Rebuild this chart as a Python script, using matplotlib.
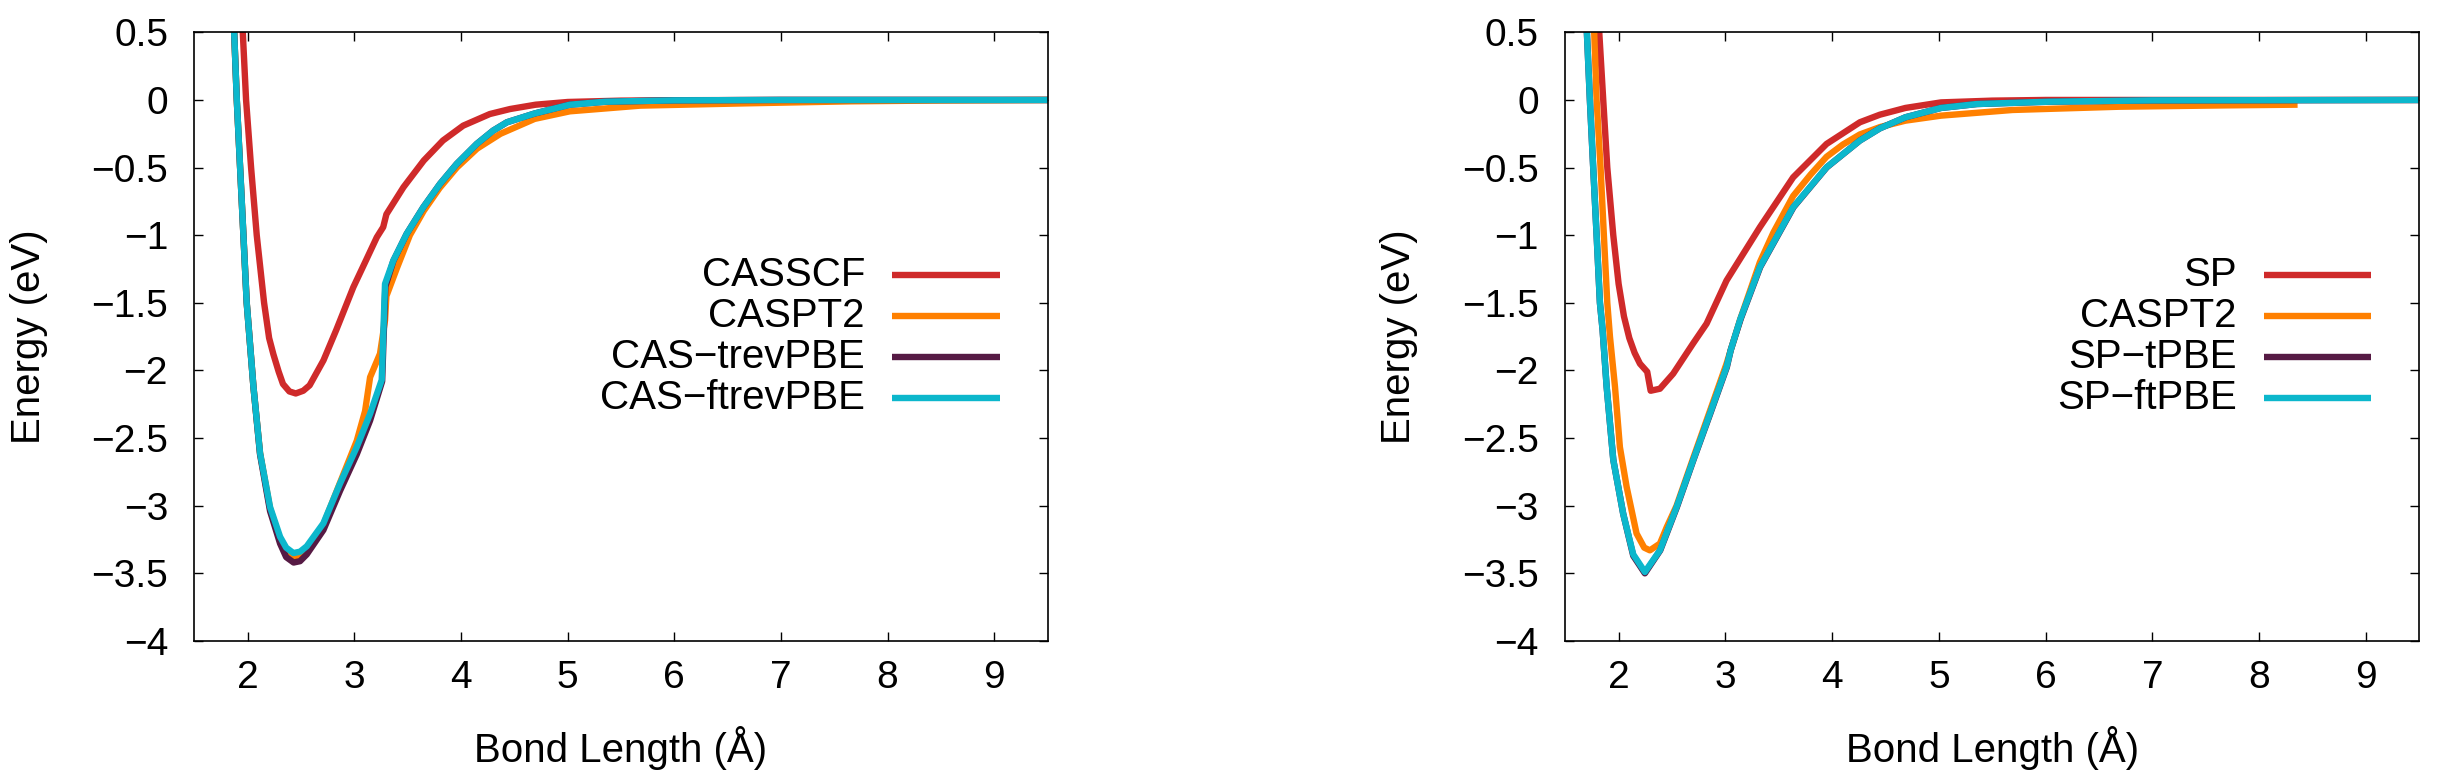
import matplotlib
matplotlib.use("Agg")
import matplotlib.pyplot as plt

plt.rcParams['font.family'] = ['Liberation Sans', 'DejaVu Sans']

# ---- left panel: CAS based methods ----
casscf_x = [1.95, 1.984, 2.031, 2.084, 2.153, 2.20, 2.24, 2.29, 2.33, 2.39, 2.45, 2.52, 2.58, 2.71,
            2.83, 2.99, 3.10, 3.21, 3.27, 3.30, 3.46, 3.65, 3.83, 4.02, 4.27, 4.46, 4.70,
            5.0, 5.5, 6.0, 7.0, 8.0, 9.5]
casscf_y = [0.55, 0.0, -0.5, -1.0, -1.5, -1.76, -1.88, -2.01, -2.10, -2.155, -2.17, -2.15, -2.11, -1.925,
            -1.70, -1.384, -1.20, -1.015, -0.94, -0.845, -0.645, -0.448, -0.30, -0.19, -0.104, -0.067, -0.035,
            -0.015, -0.005, -0.002, 0.0, 0.0, 0.0]

caspt2_x = [1.87, 1.897, 1.928, 1.959, 1.99, 2.053, 2.115, 2.209, 2.303, 2.36, 2.428, 2.49, 2.553, 2.709,
            2.865, 3.022, 3.10, 3.147, 3.24, 3.287, 3.30, 3.40, 3.52, 3.65, 3.80, 3.96, 4.15,
            4.37, 4.69, 5.02, 5.68, 6.67, 7.66, 8.5, 9.5]
caspt2_y = [0.55, 0.0, -0.5, -1.0, -1.5, -2.12, -2.61, -3.02, -3.25, -3.34, -3.38, -3.37, -3.32, -3.14,
            -2.83, -2.52, -2.30, -2.05, -1.876, -1.63, -1.45, -1.24, -1.00, -0.82, -0.65, -0.50, -0.36,
            -0.25, -0.14, -0.084, -0.042, -0.025, -0.01, -0.004, 0.0]

cas_trevpbe_x = [1.87, 1.897, 1.928, 1.959, 1.99, 2.053, 2.115, 2.209, 2.303, 2.36, 2.43, 2.49, 2.553, 2.709,
                 2.865, 3.022, 3.147, 3.26, 3.29, 3.365, 3.49, 3.646, 3.803, 3.959, 4.147, 4.30,
                 4.43, 4.69, 5.02, 5.35, 6.0, 7.0, 9.5]
cas_trevpbe_y = [0.55, 0.0, -0.5, -1.0, -1.5, -2.12, -2.62, -3.04, -3.28, -3.38, -3.42, -3.41, -3.36, -3.18,
                 -2.89, -2.62, -2.37, -2.08, -1.38, -1.19, -0.99, -0.793, -0.62, -0.473, -0.325, -0.227,
                 -0.165, -0.10, -0.035, -0.013, -0.003, 0.0, 0.0]

cas_ftrevpbe_x = [1.87, 1.897, 1.928, 1.959, 1.99, 2.053, 2.115, 2.209, 2.303, 2.36, 2.428, 2.49, 2.553, 2.709,
                  2.865, 3.022, 3.147, 3.256, 3.287, 3.365, 3.49, 3.646, 3.803, 3.959, 4.147, 4.30,
                  4.43, 4.69, 5.02, 5.35, 6.0, 7.0, 9.5]
cas_ftrevpbe_y = [0.55, 0.0, -0.5, -1.0, -1.5, -2.12, -2.61, -3.01, -3.23, -3.31, -3.35, -3.34, -3.30, -3.13,
                  -2.836, -2.566, -2.32, -2.07, -1.36, -1.187, -0.99, -0.793, -0.62, -0.473, -0.325, -0.227,
                  -0.165, -0.10, -0.035, -0.013, -0.003, 0.0, 0.0]

# ---- right panel: SP based methods ----
sp_x = [1.815, 1.856, 1.894, 1.95, 2.0, 2.05, 2.10, 2.15, 2.20, 2.268, 2.30, 2.387, 2.511, 2.698,
        2.824, 3.011, 3.323, 3.635, 3.948, 4.26, 4.447, 4.687, 5.02, 5.5, 6.0, 9.5]
sp_y = [0.55, 0.0, -0.5, -1.0, -1.36, -1.60, -1.76, -1.87, -1.95, -2.01, -2.15, -2.135, -2.024, -1.80,
        -1.654, -1.335, -0.941, -0.572, -0.325, -0.165, -0.109, -0.059, -0.018, -0.005, 0.0, 0.0]

sp_caspt2_x = [1.769, 1.794, 1.831, 1.862, 1.894, 1.919, 1.966, 2.012, 2.075, 2.168, 2.24, 2.293, 2.387,
               2.45, 2.543, 2.698, 2.855, 3.011, 3.14, 3.323, 3.45, 3.635, 3.80, 3.948, 4.10, 4.26,
               4.45, 4.687, 5.02, 5.69, 6.69, 7.69, 8.33]
sp_caspt2_y = [0.55, 0.0, -0.5, -1.0, -1.5, -1.75, -2.12, -2.566, -2.86, -3.205, -3.31, -3.33, -3.28,
               -3.16, -3.00, -2.65, -2.30, -1.95, -1.62, -1.20, -0.98, -0.71, -0.55, -0.42, -0.33, -0.255,
               -0.20, -0.153, -0.116, -0.074, -0.05, -0.04, -0.035]

sp_tpbe_x = [1.70, 1.731, 1.762, 1.794, 1.825, 1.85, 1.888, 1.95, 2.043, 2.137, 2.246, 2.39, 2.546,
             2.70, 2.858, 3.014, 3.05, 3.143, 3.326, 3.638, 3.95, 4.26, 4.447, 4.687, 5.02, 5.356,
             6.025, 7.0, 9.5]
sp_tpbe_y = [0.55, 0.0, -0.5, -1.0, -1.5, -1.70, -2.12, -2.66, -3.06, -3.37, -3.50, -3.33, -3.01,
             -2.664, -2.32, -1.975, -1.85, -1.62, -1.236, -0.793, -0.498, -0.30, -0.21, -0.128, -0.059, -0.03,
             -0.013, -0.003, 0.0]

sp_ftpbe_x = [1.70, 1.731, 1.762, 1.794, 1.825, 1.85, 1.888, 1.95, 2.043, 2.137, 2.246, 2.387, 2.543,
              2.698, 2.855, 3.011, 3.05, 3.14, 3.323, 3.635, 3.948, 4.26, 4.447, 4.687, 5.02, 5.356,
              6.025, 7.0, 9.5]
sp_ftpbe_y = [0.55, 0.0, -0.5, -1.0, -1.5, -1.70, -2.12, -2.66, -3.06, -3.36, -3.49, -3.33, -3.01,
              -2.664, -2.32, -1.975, -1.85, -1.62, -1.236, -0.793, -0.498, -0.30, -0.21, -0.128, -0.059, -0.03,
              -0.013, -0.003, 0.0]

x_ticks = [2, 3, 4, 5, 6, 7, 8, 9]
y_ticks = [0.5, 0, -0.5, -1, -1.5, -2, -2.5, -3, -3.5, -4]
y_tick_labels = ['0.5', '0', '\u22120.5', '\u22121', '\u22121.5', '\u22122',
                 '\u22122.5', '\u22123', '\u22123.5', '\u22124']

colors = ['#cf2a2a', '#ff8000', '#561a44', '#0cb7cc']

left_series = [
    ('CASSCF', casscf_x, casscf_y),
    ('CASPT2', caspt2_x, caspt2_y),
    ('CAS\u2212trevPBE', cas_trevpbe_x, cas_trevpbe_y),
    ('CAS\u2212ftrevPBE', cas_ftrevpbe_x, cas_ftrevpbe_y),
]
right_series = [
    ('SP', sp_x, sp_y),
    ('CASPT2', sp_caspt2_x, sp_caspt2_y),
    ('SP\u2212tPBE', sp_tpbe_x, sp_tpbe_y),
    ('SP\u2212ftPBE', sp_ftpbe_x, sp_ftpbe_y),
]

fig = plt.figure(figsize=(24.43, 7.81), dpi=100)
ax_left = fig.add_axes([0.0796, 0.1793, 0.3492, 0.7793])
ax_right = fig.add_axes([0.6407, 0.1793, 0.3496, 0.7793])

legend_rows = [0.601, 0.534, 0.467, 0.400]

for ax, series in [(ax_left, left_series), (ax_right, right_series)]:
    for (label, xs, ys), c, ly in zip(series, colors, legend_rows):
        ax.plot(xs, ys, color=c, lw=4.6, solid_joinstyle='round')
        # gnuplot style key: text right aligned, sample line to its right
        ax.plot([0.818, 0.944], [ly, ly], color=c, lw=4.6, transform=ax.transAxes,
                solid_capstyle='butt')
        ax.text(0.786, ly, label, transform=ax.transAxes, ha='right', va='center',
                fontsize=29)
    ax.set_xlim(1.5, 9.5)
    ax.set_ylim(-4, 0.5)
    ax.set_xticks(x_ticks)
    ax.set_xticklabels([str(t) for t in x_ticks])
    ax.set_yticks(y_ticks)
    ax.set_yticklabels(y_tick_labels)
    ax.tick_params(direction='in', length=6.5, width=1.0, labelsize=28,
                   top=True, right=True, pad=14)
    ax.tick_params(axis='y', pad=19)
    for sp in ax.spines.values():
        sp.set_linewidth(1.2)
    ax.set_xlabel('Bond Length (\u00c5)', fontsize=29)
    ax.set_ylabel('Energy (eV)', fontsize=29)
    ax.xaxis.set_label_coords(0.5, -0.14)
    ax.yaxis.set_label_coords(-0.172, 0.5)

fig.savefig('out.png', dpi=100)
